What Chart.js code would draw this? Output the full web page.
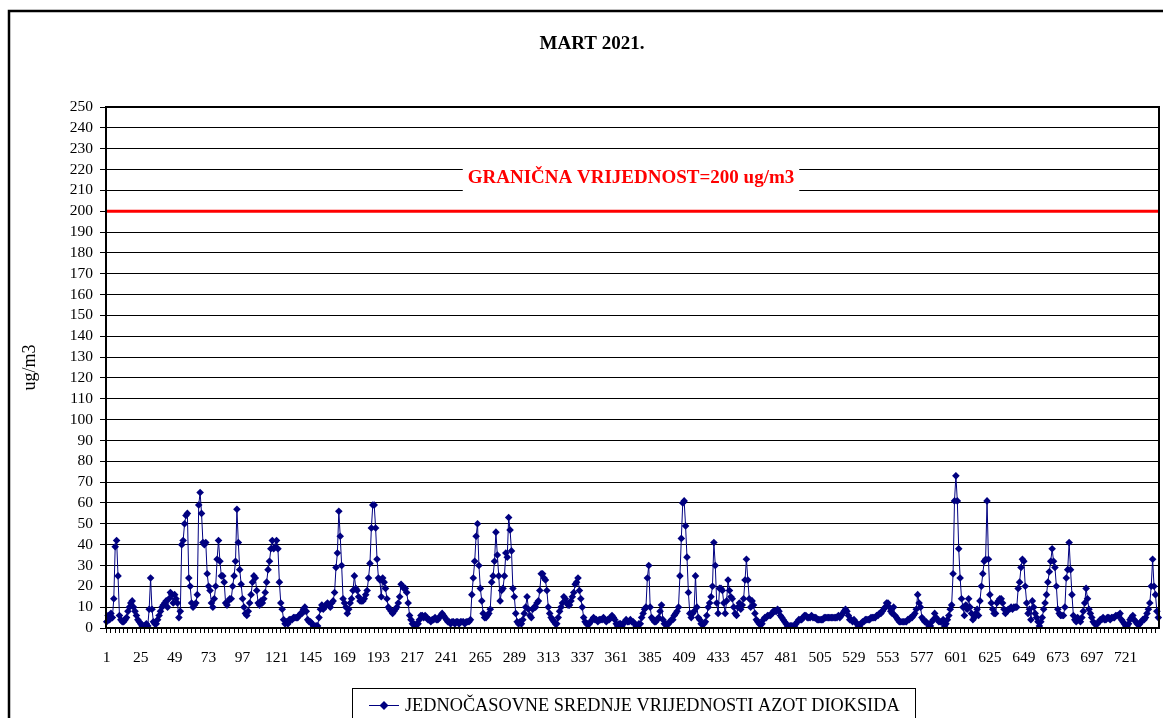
<!DOCTYPE html>
<html><head><meta charset="utf-8">
<script src="https://cdn.jsdelivr.net/npm/chart.js@4.4.0/dist/chart.umd.min.js"></script>
<style>html,body{margin:0;padding:0;background:#fff;overflow:hidden}#wrap{width:1163px;height:718px;position:relative}</style>
</head><body><div id="wrap"><canvas id="c" width="1163" height="718"></canvas></div>
<script>
const TITLE = 'MART 2021.';
const SERIES_NAME = 'JEDNOČASOVNE SREDNJE VRIJEDNOSTI AZOT DIOKSIDA';
const Y_TITLE = 'ug/m3';
const LIMIT_VALUE = 200;
const LIMIT_LABEL = 'GRANIČNA VRIJEDNOST=200 ug/m3';
const X_TICK_LABELS = ['1','25','49','73','97','121','145','169','193','217','241','265','289','313','337','361','385','409','433','457','481','505','529','553','577','601','625','649','673','697','721'];

// hourly NO2 values (ug/m3), one array per day of March 2021
const d01 = [3,6,4,7,5,14,39,42,25,6,4,3,3,4,5,8,10,12,13,10,8,6,4,3];
const d02 = [2,1,1,1,2,1,9,24,9,3,2,2,4,6,8,10,11,12,13,10,14,17,16,12];
const d03 = [16,14,12,5,8,40,42,50,54,55,24,20,12,10,11,12,16,59,65,55,41,40,41,26];
const d04 = [20,18,12,10,14,20,33,42,32,25,25,22,12,11,13,14,14,20,25,32,57,41,28,21];
const d05 = [14,10,7,6,8,12,16,22,25,24,18,12,11,13,12,14,17,22,28,32,38,42,38,39];
const d06 = [42,38,22,12,9,4,2,3,2,4,4,4,5,5,5,5,6,7,7,9,10,8,4,3];
const d07 = [3,2,1,1,1,1,5,9,11,9,10,11,12,11,10,12,13,17,29,36,56,44,30,14];
const d08 = [12,10,7,9,12,14,18,25,19,18,15,13,13,13,14,16,18,24,31,48,59,59,48,33];
const d09 = [24,23,15,24,22,19,14,10,9,8,7,8,9,10,12,15,21,20,19,19,17,12,6,4];
const d10 = [2,2,1,2,2,4,6,6,5,6,5,4,4,3,4,4,5,4,4,5,6,7,6,5];
const d11 = [4,3,3,2,3,3,2,3,3,2,3,3,3,2,3,3,3,4,16,24,32,44,50,30];
const d12 = [19,13,7,5,5,6,7,9,22,25,32,46,35,25,13,18,19,25,36,34,53,47,37,19];
const d13 = [15,7,3,2,3,2,4,7,10,15,9,6,5,9,10,10,12,13,18,26,26,24,23,18];
const d14 = [10,7,5,4,3,2,2,5,8,10,12,15,14,12,11,11,13,15,17,21,22,24,18,14];
const d15 = [10,5,3,2,2,2,3,4,5,4,4,3,4,4,4,5,4,3,4,4,5,6,5,4];
const d16 = [2,1,2,2,1,2,3,4,3,3,4,3,3,2,1,1,2,2,5,7,9,10,24,30];
const d17 = [10,5,4,3,3,4,5,8,11,4,2,2,2,2,3,4,4,6,7,8,10,25,43,60];
const d18 = [61,49,34,17,7,5,7,8,25,10,5,4,2,2,2,3,6,10,12,15,20,41,30,12];
const d19 = [7,19,19,18,12,7,13,23,18,15,14,10,7,6,10,12,9,11,14,23,33,23,14,10];
const d20 = [13,11,7,4,3,2,2,2,4,5,5,6,6,6,7,8,8,8,9,8,6,5,4,3];
const d21 = [2,1,1,1,1,1,1,2,3,4,4,4,5,6,6,5,5,5,6,5,5,5,4,4];
const d22 = [4,4,4,5,5,5,5,5,5,5,5,5,5,6,5,6,7,8,9,8,6,4,4,3];
const d23 = [4,3,2,1,1,2,3,3,4,4,4,4,5,5,5,5,6,6,7,7,8,9,10,12];
const d24 = [12,10,8,7,10,6,5,4,3,3,3,3,3,3,4,4,5,5,6,7,9,16,12,10];
const d25 = [5,4,3,3,2,1,1,3,4,7,5,4,3,3,3,4,1,2,4,6,9,11,26,61];
const d26 = [73,61,38,24,14,10,6,11,9,14,10,7,4,5,7,9,6,13,20,26,32,33,61,33];
const d27 = [16,12,9,7,7,12,13,14,14,12,9,7,8,9,9,10,9,10,10,10,19,22,29,33];
const d28 = [32,20,12,7,9,4,13,10,7,5,3,1,3,5,9,12,16,22,27,32,38,32,29,20];
const d29 = [9,7,6,6,6,10,24,28,41,28,16,6,4,3,5,4,3,5,8,12,19,14,9,7];
const d30 = [5,3,2,2,2,3,4,4,5,4,4,5,5,4,5,5,5,6,6,6,7,4,3,2];
const d31 = [1,1,2,4,5,6,4,3,2,2,2,3,4,4,5,7,9,12,20,33,20,16,8,5];

const days = [d01,d02,d03,d04,d05,d06,d07,d08,d09,d10,d11,d12,d13,d14,d15,d16,d17,d18,d19,d20,d21,d22,d23,d24,d25,d26,d27,d28,d29,d30,d31];
const values = [].concat(...days);
const hours = values.map((_, i) => String(i + 1));

const SERIF = 'Liberation Serif, Times New Roman, serif';
const NAVY = '#000080';

const limitPlugin = {
  id: 'limit',
  beforeDatasetsDraw(chart) {
    const {ctx, chartArea: a, scales: {y}} = chart;
    const py = y.getPixelForValue(LIMIT_VALUE);
    ctx.save();
    ctx.strokeStyle = '#ff0000';
    ctx.lineWidth = 3;
    ctx.beginPath(); ctx.moveTo(a.left, py); ctx.lineTo(a.right, py); ctx.stroke();
    ctx.font = 'bold 19px ' + SERIF;
    const tw = ctx.measureText(LIMIT_LABEL).width;
    const cx = 631, cy = 178;
    ctx.fillStyle = '#fff';
    ctx.fillRect(cx - tw / 2 - 5, 164, tw + 10, 28);
    ctx.fillStyle = '#ff0000';
    ctx.textAlign = 'center'; ctx.textBaseline = 'middle';
    ctx.fillText(LIMIT_LABEL, cx, cy);
    ctx.restore();
  }
};

const framePlugin = {
  id: 'frame',
  afterDraw(chart) {
    const {ctx, chartArea: a} = chart;
    ctx.save();
    ctx.strokeStyle = '#000';
    ctx.lineWidth = 2;
    ctx.strokeRect(a.left, a.top, a.right - a.left, a.bottom - a.top);
    ctx.lineWidth = 2.5;
    ctx.beginPath();
    ctx.moveTo(9, 740); ctx.lineTo(9, 11); ctx.lineTo(1170, 11);
    ctx.stroke();
    // title
    ctx.fillStyle = '#000';
    ctx.font = 'bold 19px ' + SERIF;
    ctx.textAlign = 'center'; ctx.textBaseline = 'middle';
    ctx.fillText(TITLE, 592, 44);
    // legend
    ctx.lineWidth = 1;
    ctx.strokeRect(352.5, 688.5, 563, 40);
    ctx.strokeStyle = NAVY; ctx.fillStyle = NAVY;
    ctx.beginPath(); ctx.moveTo(369, 705.5); ctx.lineTo(399, 705.5); ctx.stroke();
    ctx.beginPath(); ctx.moveTo(384, 701); ctx.lineTo(388.5, 705.5); ctx.lineTo(384, 710); ctx.lineTo(379.5, 705.5); ctx.closePath(); ctx.fill();
    ctx.fillStyle = '#000';
    ctx.font = '18.3px ' + SERIF;
    ctx.textAlign = 'left'; ctx.textBaseline = 'middle';
    ctx.fillText(SERIES_NAME, 405, 706);
    ctx.restore();
  }
};

new Chart(document.getElementById('c'), {
  type: 'line',
  data: {
    labels: hours,
    datasets: [{
      label: SERIES_NAME,
      data: values,
      borderColor: NAVY,
      backgroundColor: NAVY,
      borderWidth: 1,
      pointStyle: 'rectRot',
      pointRadius: 3.8,
      pointBorderWidth: 0,
      pointBackgroundColor: NAVY,
      tension: 0
    }]
  },
  options: {
    responsive: false,
    animation: false,
    devicePixelRatio: 1,
    layout: {padding: {left: 10, right: 3, top: 107, bottom: 0}},
    plugins: {
      legend: {display: false},
      tooltip: {enabled: false},
      title: {display: false}
    },
    scales: {
      x: {
        type: 'category',
        offset: true,
        grid: {drawOnChartArea: false, tickLength: 5, lineWidth: 1, color: c => (c.index % 3 === 0 ? '#000' : 'rgba(0,0,0,0)')},
        border: {color: '#000', width: 2},
        ticks: {autoSkip: false, maxRotation: 0, minRotation: 0, padding: 16, color: '#000', font: {family: SERIF, size: 15.5},
          callback: function (v, i) { const l = hours[i]; return X_TICK_LABELS.includes(l) ? l : ''; }},
        afterFit: s => { s.height = 90; s.paddingLeft = 0; s.paddingRight = 0; }
      },
      y: {
        min: 0, max: 250,
        ticks: {stepSize: 10, autoSkip: false, maxTicksLimit: 40, color: '#000', padding: 7, font: {family: SERIF, size: 15.5, lineHeight: 1}},
        grid: {color: '#000', lineWidth: 1, tickLength: 6},
        border: {color: '#000', width: 2},
        title: {display: true, text: Y_TITLE, color: '#000', font: {family: SERIF, size: 18}, padding: {top: 9, bottom: 0}},
        afterFit: s => { s.width = 96; s.paddingTop = 0; s.paddingBottom = 0; }
      }
    }
  },
  plugins: [limitPlugin, framePlugin]
});
</script></body></html>
